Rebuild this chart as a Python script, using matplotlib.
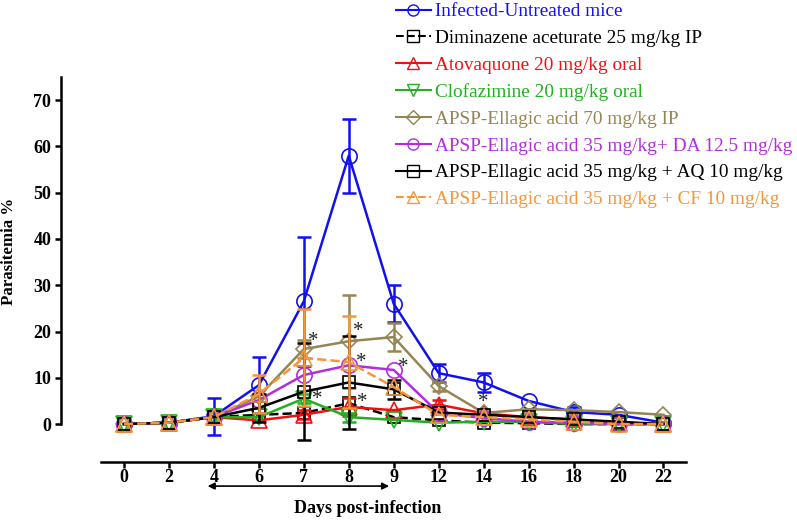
import numpy as np
import matplotlib.pyplot as plt
from matplotlib.lines import Line2D
plt.rcParams.update({'font.family': 'Liberation Serif', 'font.size': 12})

days = ["0", "2", "4", "6", "7", "8", "9", "12", "14", "16", "18", "20", "22"]

untreated = [0, 0.3, 1.7, 8.4, 26.5, 58, 26, 11, 9, 5, 2.6, 2, 0.3]
untreated_err = [0, 0, 4, 6, 14, 8, 4, 2, 2, 0, 1, 0, 0]
diminazene = [0, 0.3, 1.5, 2, 2.4, 4.5, 1.5, 0.8, 0.3, 0.2, 0, 0, 0]
diminazene_err = [0, 0, 0, 0, 0, 0, 0, 0, 0, 0, 0, 0, 0]
atovaquone = [0, 0.3, 1.5, 0.8, 2, 3.7, 3, 4.2, 2.3, 1.5, 1, 0.3, 0]
atovaquone_err = [0, 0, 0, 0, 1, 2, 0, 1, 0, 0, 0, 0, 0]
clofazimine = [0, 0.3, 1.5, 1.5, 5.5, 1.5, 0.9, 0.3, 0.5, 0.5, 0, 0, 0]
clofazimine_err = [0, 0, 0, 0, 1, 1, 0, 0, 0, 0, 0, 0, 0]
ea70 = [0, 0.3, 1.5, 6, 16.2, 17.9, 18.8, 8.2, 2.4, 3.2, 3, 2.6, 2]
ea70_err = [0, 0, 0, 0, 2, 10, 3, 1, 0, 0, 0, 0, 0]
ea_da = [0, 0.3, 1.5, 5.2, 10.6, 12.7, 11.7, 2.4, 1.3, 0.5, 0.3, 0, 0]
ea_da_err = [0, 0, 0, 0, 0, 0, 0, 0, 0, 0, 0, 0, 0]
ea_aq = [0, 0.3, 1.5, 3.5, 7, 9, 7.5, 2.5, 2, 1.5, 1, 0.5, 0]
ea_aq_err = [0, 0, 0, 3, 10.5, 10, 2, 0, 0, 0, 0, 0, 0]
ea_cf = [0, 0.3, 1.5, 6.5, 14.3, 13.4, 8, 2, 1.5, 1, 0.5, 0, 0]
ea_cf_err = [0, 0, 0, 4, 10.5, 10, 0, 0, 0, 0, 0, 0, 0]

# asterisks: (x index, y value)
stars = [(4.2, 17.9), (5.22, 19.9), (5.27, 13.2), (6.22, 12.3), (4.29, 5.4), (5.31, 4.75), (8.0, 4.75)]

series = [
    ("Infected-Untreated mice", untreated, untreated_err, "#1010f0", "o", "-"),
    ("Diminazene aceturate 25 mg/kg IP", diminazene, diminazene_err, "black", "s", "--"),
    ("Atovaquone 20 mg/kg oral", atovaquone, atovaquone_err, "#f01010", "^", "-"),
    ("Clofazimine 20 mg/kg oral", clofazimine, clofazimine_err, "#20b020", "v", "-"),
    ("APSP-Ellagic acid 70 mg/kg IP", ea70, ea70_err, "#968554", "D", "-"),
    ("APSP-Ellagic acid 35 mg/kg+ DA 12.5 mg/kg", ea_da, ea_da_err, "#b02ee0", "o", "-"),
    ("APSP-Ellagic acid 35 mg/kg + AQ 10 mg/kg", ea_aq, ea_aq_err, "black", "s", "-"),
    ("APSP-Ellagic acid 35 mg/kg + CF 10 mg/kg", ea_cf, ea_cf_err, "#f5963a", "^", "--"),
]

fig = plt.figure(figsize=(7.97, 5.2), dpi=100)
ax = fig.add_axes([0.0765, 0.1115, 0.8607 - 0.0765, 0.8519 - 0.1115])
x = np.arange(len(days))

handles = []
for label, vals, err, color, marker, ls in series:
    vals = np.array(vals)
    err = np.array(err, dtype=float)
    ms = 11
    if marker == "s":
        ms = 9
    if marker == "D":
        ms = 8
    ax.plot(x, vals, color=color, linestyle=ls, linewidth=1.8, marker=marker,
            markersize=ms, markerfacecolor="none", markeredgewidth=1.2)
    m = err > 0
    ax.errorbar(x[m], vals[m], yerr=err[m], fmt="none", ecolor=color,
                elinewidth=1.8, capsize=5, capthick=1.8)
    handles.append(Line2D([], [], color=color, linestyle=ls, linewidth=1.5, marker=marker,
                          markersize=8 if marker != "D" else 7, markerfacecolor="none",
                          markeredgewidth=1.0, label=label))

for sx, sy in stars:
    ax.text(sx, sy, "*", fontsize=15, ha="center", va="center", color="#222222")

ax.set_xlim(-1.4, 12.5)
ax.set_ylim(-8.2, 75)
ax.set_xticks(x)
ax.set_xticklabels(days)
ax.set_yticks(range(0, 71, 10))
for lab in ax.get_xticklabels() + ax.get_yticklabels():
    lab.set_fontweight("bold")
    lab.set_fontsize(13)
ax.spines["top"].set_visible(False)
ax.spines["right"].set_visible(False)
ax.spines["left"].set_bounds(0, 75)
ax.spines["bottom"].set_bounds(-0.5, 12.5)
ax.spines["left"].set_linewidth(1.8)
ax.spines["bottom"].set_linewidth(1.8)
ax.tick_params(axis="both", width=1.8, length=4)
ax.tick_params(axis="x", pad=1)
ax.tick_params(axis="y", pad=3)

ax.set_ylabel("Parasitemia %", fontweight="bold", fontsize=12.2)
ax.yaxis.set_label_coords(-0.071, 0.548)
ax.set_xlabel("Days post-infection", fontweight="bold", fontsize=13)
ax.xaxis.set_label_coords(0.49, -0.098)

# arrow under the x axis
ax.annotate("", xy=(1.8, -13.4), xytext=(5.96, -13.4), xycoords="data",
            arrowprops=dict(arrowstyle="<|-|>", color="black", lw=1.2, mutation_scale=10),
            annotation_clip=False)

fig.legend(handles=handles, loc="upper left", bbox_to_anchor=(0.475, 1.028), frameon=False,
           fontsize=13.9, labelcolor="linecolor", handlelength=1.8, handletextpad=0.2,
           labelspacing=0.48)

fig.savefig("out.png", dpi=100)
